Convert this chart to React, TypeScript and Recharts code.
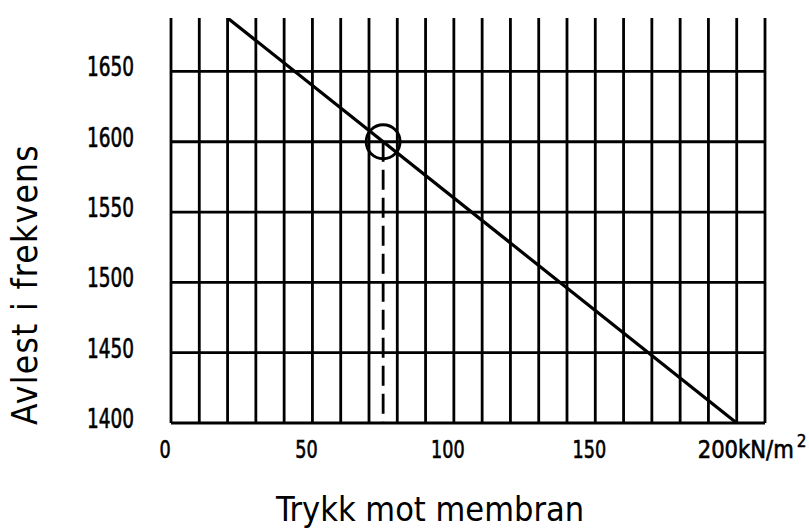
import { ComposedChart, Line, XAxis, YAxis, ReferenceLine, ReferenceDot } from 'recharts';

// Calibration line: pressure (kN/m²) vs read frequency
const pressure = [20, 200];
const frequency = [1688, 1400];

// Grid and tick values
const gridX = [0, 10, 20, 30, 40, 50, 60, 70, 80, 90, 100, 110, 120, 130, 140, 150, 160, 170, 180, 190, 200, 210];
const gridY = [1400, 1450, 1500, 1550, 1600, 1650];
const xTicks = [0, 50, 100, 150, 200];
const yTicks = [1400, 1450, 1500, 1550, 1600, 1650];

// Example reading marked with a circle and dashed drop line
const readPressure = 75;
const readFrequency = 1600;

const FONT = "'DejaVu Sans Condensed', 'DejaVu Sans', sans-serif";

const data = pressure.map((p, i) => ({ x: p, y: frequency[i] }));

function XTick({ x, y, payload }: any) {
  if (payload.value === 200) {
    return (
      <g>
        <text
          x={x - 39}
          y={y + 35}
          fontFamily={FONT}
          fontSize={24}
          fill="#000"
          stroke="#000"
          strokeWidth={0.6}
          textLength={96}
          lengthAdjust="spacingAndGlyphs"
        >
          200kN/m
        </text>
        <text x={x + 60} y={y + 24} fontFamily={FONT} fontSize={17} fill="#000" stroke="#000" strokeWidth={0.4}>
          2
        </text>
      </g>
    );
  }
  const label = String(payload.value);
  return (
    <text
      x={x - 6}
      y={y + 35}
      textAnchor="middle"
      fontFamily={FONT}
      fontSize={24}
      fill="#000"
      stroke="#000"
      strokeWidth={0.6}
      textLength={label.length * 11.2}
      lengthAdjust="spacingAndGlyphs"
    >
      {label}
    </text>
  );
}

function YTick({ x, y, payload }: any) {
  return (
    <text
      x={x}
      y={y + 5}
      textAnchor="end"
      fontFamily={FONT}
      fontSize={26}
      fill="#000"
      stroke="#000"
      strokeWidth={0.6}
      textLength={47}
      lengthAdjust="spacingAndGlyphs"
    >
      {payload.value}
    </text>
  );
}

export default function App() {
  return (
    <div style={{ position: 'absolute', left: 0, top: 0, background: '#fff' }}>
      <ComposedChart width={809} height={530} data={data} margin={{ top: 18, right: 44, bottom: 0, left: 0 }}>
        <XAxis
          dataKey="x"
          type="number"
          domain={[0, 210]}
          ticks={xTicks}
          height={107}
          tickSize={0}
          tickMargin={0}
          axisLine={false}
          tick={<XTick />}
          allowDataOverflow
          label={{
            content: ({ viewBox }: any) => (
              <text
                x={viewBox.x + viewBox.width / 2 - 38}
                y={viewBox.y + 98}
                textAnchor="middle"
                fontFamily={FONT}
                fontSize={34}
                fill="#000"
              >
                Trykk mot membran
              </text>
            ),
          }}
        />
        <YAxis
          type="number"
          domain={[1400, 1688]}
          ticks={yTicks}
          width={171}
          tickSize={0}
          tickMargin={37}
          axisLine={false}
          tick={<YTick />}
          allowDataOverflow
          label={{
            content: ({ viewBox }: any) => {
              const cx = viewBox.x + 25;
              const cy = viewBox.y + viewBox.height / 2 + 64;
              return (
                <text
                  x={cx}
                  y={cy}
                  transform={`rotate(-90 ${cx} ${cy})`}
                  textAnchor="middle"
                  dominantBaseline="central"
                  fontFamily={FONT}
                  fontSize={35}
                  letterSpacing={1.3}
                  fill="#000"
                >
                  Avlest i frekvens
                </text>
              );
            },
          }}
        />
        {gridX.map((v) => (
          <ReferenceLine key={`gx${v}`} x={v} stroke="#000" strokeWidth={2.8} />
        ))}
        {gridY.map((v) => (
          <ReferenceLine key={`gy${v}`} y={v} stroke="#000" strokeWidth={2.8} />
        ))}
        <ReferenceLine
          segment={[
            { x: readPressure, y: readFrequency },
            { x: readPressure, y: 1400 },
          ]}
          stroke="#000"
          strokeWidth={2.8}
          strokeDasharray="20 8"
        />
        <ReferenceDot x={readPressure} y={readFrequency} r={17} fill="none" stroke="#000" strokeWidth={2.8} />
        <Line dataKey="y" stroke="#000" strokeWidth={3.2} dot={false} isAnimationActive={false} />
      </ComposedChart>
    </div>
  );
}
